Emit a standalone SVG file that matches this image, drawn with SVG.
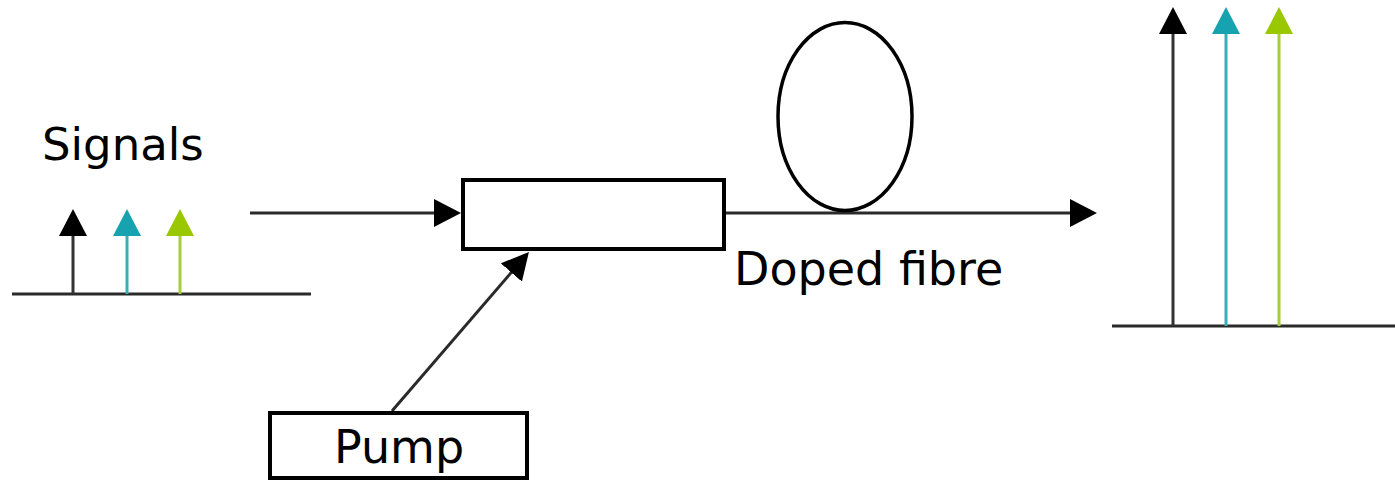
<svg xmlns="http://www.w3.org/2000/svg" width="1395" height="481" viewBox="0 0 1395 481">
  <style>
    .ln { stroke: #2a2a2a; stroke-width: 3; fill: none; }
    .box { stroke: #000; stroke-width: 4; fill: #fff; }
    .lbl { font-family: "DejaVu Sans", sans-serif; fill: #000; }
  </style>
  <defs>
    <marker id="ah-k" markerUnits="userSpaceOnUse" markerWidth="27" markerHeight="28" refX="17" refY="14" orient="auto">
      <path d="M0,0 L27,14 L0,28 z" fill="#000"/>
    </marker>
    <marker id="ah-t" markerUnits="userSpaceOnUse" markerWidth="27" markerHeight="28" refX="17" refY="14" orient="auto">
      <path d="M0,0 L27,14 L0,28 z" fill="#16a2ae"/>
    </marker>
    <marker id="ah-g" markerUnits="userSpaceOnUse" markerWidth="27" markerHeight="28" refX="17" refY="14" orient="auto">
      <path d="M0,0 L27,14 L0,28 z" fill="#99c800"/>
    </marker>
  </defs>
  <rect width="1395" height="481" fill="#fff"/>

  <g id="input-spectrum">
    <text class="lbl" x="42" y="160" font-size="45">Signals</text>
    <line class="ln" x1="12" y1="294" x2="311" y2="294"/>
    <line x1="73" y1="294" x2="73" y2="219" stroke="#333" stroke-width="3" marker-end="url(#ah-k)"/>
    <line x1="127" y1="294" x2="127" y2="219" stroke="#3aaeb6" stroke-width="3" marker-end="url(#ah-t)"/>
    <line x1="180" y1="294" x2="180" y2="219" stroke="#a6cd3c" stroke-width="3" marker-end="url(#ah-g)"/>
  </g>

  <g id="output-spectrum">
    <line class="ln" x1="1112" y1="326" x2="1395" y2="326"/>
    <line x1="1173" y1="326" x2="1173" y2="17" stroke="#333" stroke-width="3" marker-end="url(#ah-k)"/>
    <line x1="1226" y1="326" x2="1226" y2="17" stroke="#3aaeb6" stroke-width="3" marker-end="url(#ah-t)"/>
    <line x1="1279" y1="326" x2="1279" y2="17" stroke="#a6cd3c" stroke-width="3" marker-end="url(#ah-g)"/>
  </g>

  <g id="connectors">
    <line class="ln" x1="250" y1="213" x2="451" y2="213" marker-end="url(#ah-k)"/>
    <line class="ln" x1="725" y1="213" x2="1087" y2="213" marker-end="url(#ah-k)"/>
    <line class="ln" x1="392" y1="411" x2="522.4" y2="259.6" marker-end="url(#ah-k)"/>
  </g>

  <g id="coupler">
    <rect class="box" x="463" y="180" width="261" height="69"/>
  </g>

  <g id="doped-fibre">
    <ellipse cx="845" cy="116.5" rx="67" ry="94" fill="none" stroke="#000" stroke-width="3.5"/>
    <text class="lbl" x="734" y="285" font-size="46">Doped fibre</text>
  </g>

  <g id="pump">
    <rect class="box" x="270" y="413" width="257" height="65"/>
    <text class="lbl" x="334" y="463" font-size="46">Pump</text>
  </g>
</svg>
